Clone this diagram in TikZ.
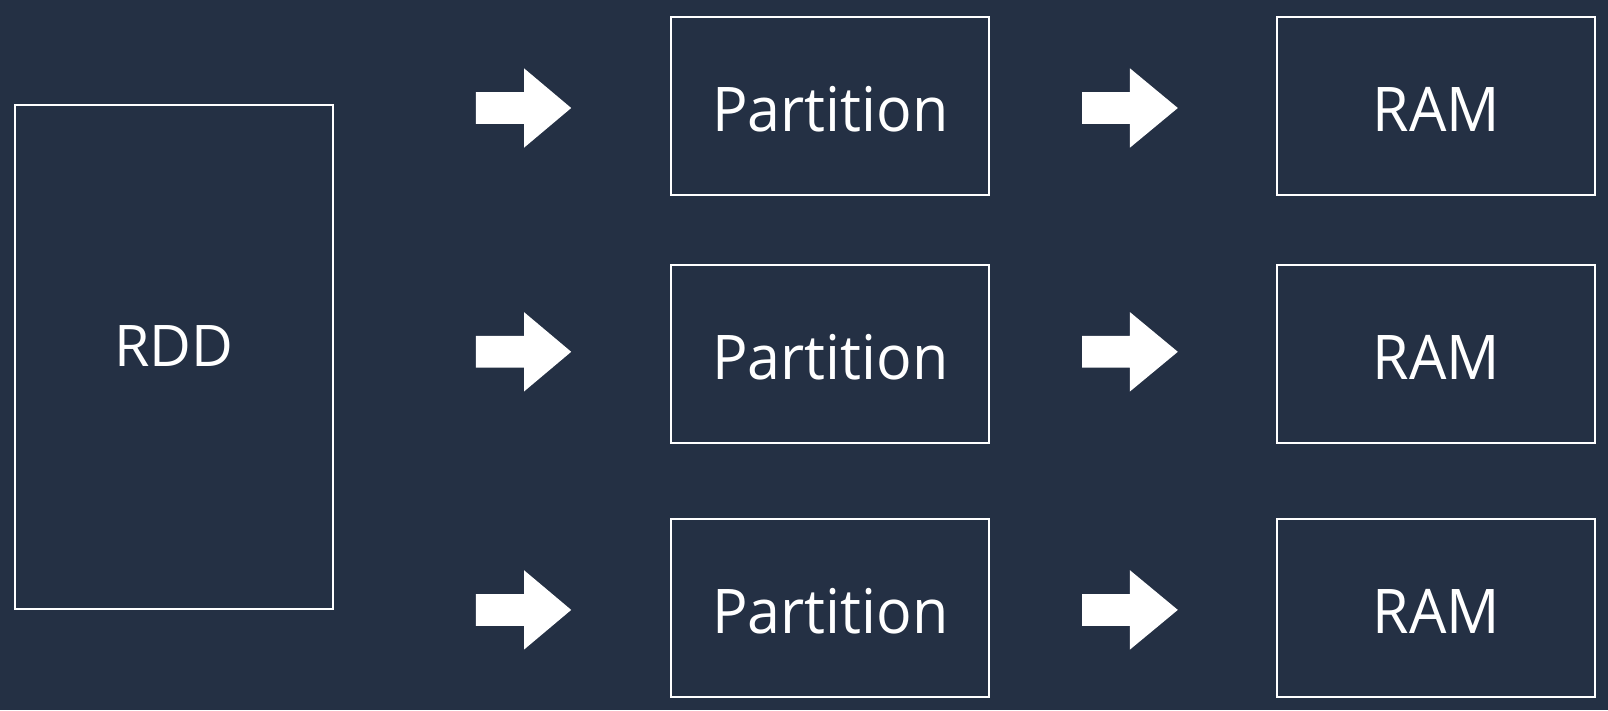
\documentclass[tikz,border=0pt]{standalone}
\usepackage{fontspec}
\setmainfont{Open Sans}
\newfontfamily\narrowsans[FakeStretch=0.96]{Open Sans}
\definecolor{bgnavy}{RGB}{36,48,68}
\begin{document}
\begin{tikzpicture}[x=1pt,y=-1pt,
  box/.style={draw=white,line width=2pt,inner sep=0pt,outer sep=0pt,text=white,
    font=\narrowsans\fontsize{61.6}{70}\selectfont,text height=50pt,text depth=0pt},
  blockarrow/.style={fill=white}]
\fill[bgnavy] (0,0) rectangle (1608,710);
\useasboundingbox (0,0) rectangle (1608,710);
\node[box,minimum width=318pt,minimum height=504pt,font=\fontsize{57.4}{66}\selectfont,text height=18pt] (rdd) at (174,357) {RDD};
\foreach \i/\y/\ay in {1/106/108,2/354/351.8,3/608/609.9}{
  \node[box,minimum width=318pt,minimum height=178pt] (p\i) at (830.2,\y) {Partition};
  \node[box,minimum width=318pt,minimum height=178pt] (r\i) at (1436.4,\y) {RAM};
  \fill[blockarrow] (475.8,\ay-15.85) -- (524,\ay-15.85) -- (524,\ay-39.7) -- (571.2,\ay)
     -- (524,\ay+39.7) -- (524,\ay+15.85) -- (475.8,\ay+15.85) -- cycle;
  \fill[blockarrow] (1082,\ay-15.85) -- (1129.9,\ay-15.85) -- (1129.9,\ay-39.7) -- (1177.8,\ay)
     -- (1129.9,\ay+39.7) -- (1129.9,\ay+15.85) -- (1082,\ay+15.85) -- cycle;
}
\end{tikzpicture}
\end{document}
